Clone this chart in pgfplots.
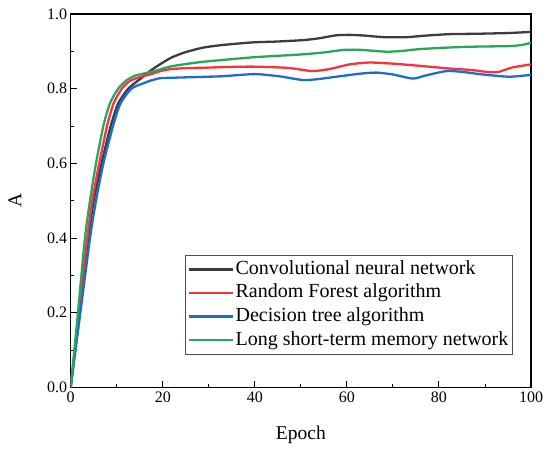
\documentclass[border=0pt]{standalone}
\usepackage{fontspec}
\setmainfont{Liberation Serif}
\usepackage{pgfplots}
\pgfplotsset{compat=1.18}
\definecolor{cnn}{RGB}{60,60,60}
\definecolor{rf}{RGB}{248,50,62}
\definecolor{dt}{RGB}{28,110,205}
\definecolor{lstm}{RGB}{42,165,92}
\begin{document}
\begin{tikzpicture}
\useasboundingbox (-70.7pt,-62.7pt) rectangle (479.3pt,387.3pt);
\begin{axis}[
  at={(0pt,0pt)}, anchor=south west,
  scale only axis, width=460.3pt, height=373.3pt,
  xmin=0, xmax=100, ymin=0, ymax=1,
  xtick={0,20,40,60,80,100}, ytick={0,0.2,0.4,0.6,0.8,1.0},
  xticklabel={\pgfmathprintnumber[assume math mode=true]{\tick}},
  yticklabel={\pgfmathprintnumber[assume math mode=true,fixed,fixed zerofill,precision=1]{\tick}},
  every tick label/.append style={font=\fontsize{16}{18}\selectfont},
  minor x tick num=1, minor y tick num=1,
  tick align=inside, xtick pos=bottom, ytick pos=left,
  major tick length=6pt, minor tick length=3.5pt,
  tick style={black, line width=0.9pt},
  axis line style={black, line width=1.1pt},
  xticklabel style={yshift=-1pt},
  xlabel={Epoch}, ylabel={A},
  label style={font=\rmfamily\fontsize{19.5}{22}\selectfont},
  xlabel style={at={(axis description cs:0.5,-0.126)}, anchor=center},
  ylabel style={at={(axis description cs:-0.121,0.5)}, anchor=center},
  legend style={at={(0.248,0.354)}, anchor=north west, draw=black!70, line width=0.8pt,
    font=\rmfamily\fontsize{20}{22}\selectfont, inner sep=2pt, row sep=0pt,
    nodes={inner sep=1.8pt, text height=15pt, text depth=5pt}},
  legend cell align=left,
  legend image code/.code={\draw[#1, line width=2.6pt] (0pt,0pt) -- (44pt,0pt);},
  every axis plot/.append style={line width=2.3pt, smooth, tension=0.4},
]
\addplot[cnn] coordinates {
(0,0) (1.9,0.2) (3.8,0.40) (5.0,0.50) (6.7,0.60) (8.7,0.70) (10.3,0.76) (12.5,0.80)
(15,0.825) (17.2,0.847) (19.5,0.866) (22,0.884) (25,0.898) (28.8,0.910) (33,0.917)
(39.6,0.924) (44.4,0.926) (50.5,0.930) (54,0.935) (57.7,0.943) (61,0.944) (64,0.942)
(68,0.938) (73,0.938) (77,0.942) (82.3,0.946) (88,0.947) (95,0.949) (100,0.952)};
\addlegendentry{\makebox[262pt][l]{Convolutional neural network}}
\addplot[rf] coordinates {
(0,0) (1.8,0.2) (3.6,0.40) (4.7,0.50) (6.2,0.60) (7.9,0.70) (9.3,0.76) (11.1,0.80)
(12.9,0.821) (15,0.831) (17.2,0.838) (19.5,0.847) (21.5,0.852) (25,0.855) (28.8,0.856)
(34,0.858) (39.6,0.859) (46.9,0.856) (50,0.851) (52.6,0.847) (56,0.852) (60.6,0.865)
(64.9,0.870) (70,0.867) (75,0.862) (82.3,0.854) (87,0.850) (91,0.844) (93,0.845)
(96,0.857) (100,0.865)};
\addlegendentry{Random Forest algorithm}
\addplot[dt] coordinates {
(0,0) (2.1,0.2) (4.2,0.40) (5.5,0.50) (7.1,0.60) (9.2,0.70) (10.8,0.76) (13.2,0.80)
(15.7,0.814) (17.2,0.821) (19.4,0.828) (21.5,0.829) (27,0.831) (32.4,0.833) (36,0.836)
(40.3,0.839) (45.4,0.833) (50.5,0.823) (54,0.826) (57.7,0.832) (62.8,0.840) (66.4,0.843)
(70,0.838) (74.3,0.827) (77,0.835) (81.6,0.847) (85,0.845) (89.5,0.838) (95.3,0.832)
(100,0.837)};
\addlegendentry{Decision tree algorithm}
\addplot[lstm] coordinates {
(0,0) (1.5,0.19) (3.1,0.40) (4.2,0.50) (5.5,0.60) (7.1,0.70) (8.5,0.76) (10.3,0.80)
(12.1,0.822) (14,0.835) (16.5,0.842) (19,0.850) (21.5,0.859) (25,0.866) (28.8,0.872)
(34,0.878) (39.6,0.884) (45,0.888) (50.5,0.892) (55,0.897) (59.4,0.904) (63,0.904)
(68.5,0.899) (72,0.901) (74.9,0.905) (80,0.909) (85.9,0.912) (90,0.913) (95.3,0.914)
(98,0.917) (100,0.923)};
\addlegendentry{Long short-term memory network}
\end{axis}
\end{tikzpicture}
\end{document}
